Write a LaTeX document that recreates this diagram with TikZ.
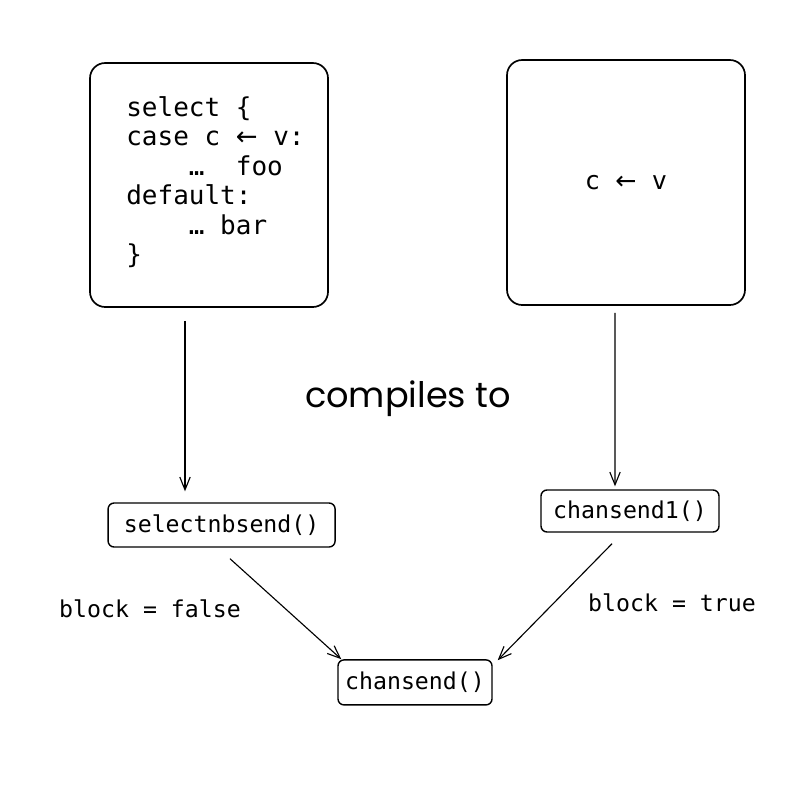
\documentclass[tikz,border=0pt]{standalone}
\usepackage{fontspec}
\setmonofont{DejaVu Sans Mono}
\newfontfamily\handfont{Poppins}
\newfontfamily\arrowfont{DejaVu Sans}
\newcommand{\larrow}{{\arrowfont ←}}
\usetikzlibrary{arrows.meta,calc}

\begin{document}
\begin{tikzpicture}
\useasboundingbox[fill=white] (0,0) rectangle (20.15,-19.85);
\begin{scope}[every node/.style={draw, rounded corners=0.38cm, line width=1.2pt, inner sep=0cm}]
    \node[minimum width=5.95cm, minimum height=6.1cm] (sel) at (5.225,-4.625) {};
    \node[minimum width=5.95cm, minimum height=6.125cm, font=\ttfamily\fontsize{18}{20}\selectfont] (snd) at (15.65,-4.5625) {c \larrow\ v};
\end{scope}
\begin{scope}[every node/.style={draw, rounded corners=0.15cm, line width=1pt, inner sep=0cm, font=\ttfamily\fontsize{16.5}{20}\selectfont}]
    \node[minimum width=5.675cm, minimum height=1.1cm] (nb) at (5.54,-13.125) {selectnbsend()};
    \node[minimum width=4.45cm, minimum height=1.05cm] (cs1) at (15.75,-12.775) {chansend1()};
    \node[minimum width=3.85cm, minimum height=1.125cm] (cs) at (10.375,-17.06) {chansend()};
\end{scope}
\node[anchor=north west, inner sep=0cm, align=left, font=\ttfamily\fontsize{18.5}{21}\selectfont] (code) at (3.15,-2.4)
    {select \{\\case c \larrow\ v:\\\ \ \ \ …\ \ foo\\default:\\\ \ \ \ …\ bar\\\}};
\node[font=\handfont\fontsize{25}{28}\selectfont] (comp) at (10.2,-9.975) {compiles to};
\node[font=\ttfamily\fontsize{16.5}{20}\selectfont] (lf) at (3.75,-15.225) {block = false};
\node[font=\ttfamily\fontsize{16.5}{20}\selectfont] (lt) at (16.8,-15.075) {block = true};
\begin{scope}[every edge/.style={draw=black, line width=0.8pt, -{Straight Barb[length=3.2mm, width=2.6mm]}}]
    \path ($(sel.south)+(-0.6,-0.325)$) edge ($(nb.north)+(-0.915,0.275)$);
    \path ($(snd.south)+(-0.275,-0.175)$) edge ($(cs1.north)+(-0.375,0.075)$);
    \path ($(nb.south)+(0.21,-0.275)$) edge ($(cs.north west)+(0.1,0)$);
    \path ($(cs1.south)+(-0.45,-0.275)$) edge ($(cs.north east)+(0.125,-0.025)$);
\end{scope}
\end{tikzpicture}
\end{document}
